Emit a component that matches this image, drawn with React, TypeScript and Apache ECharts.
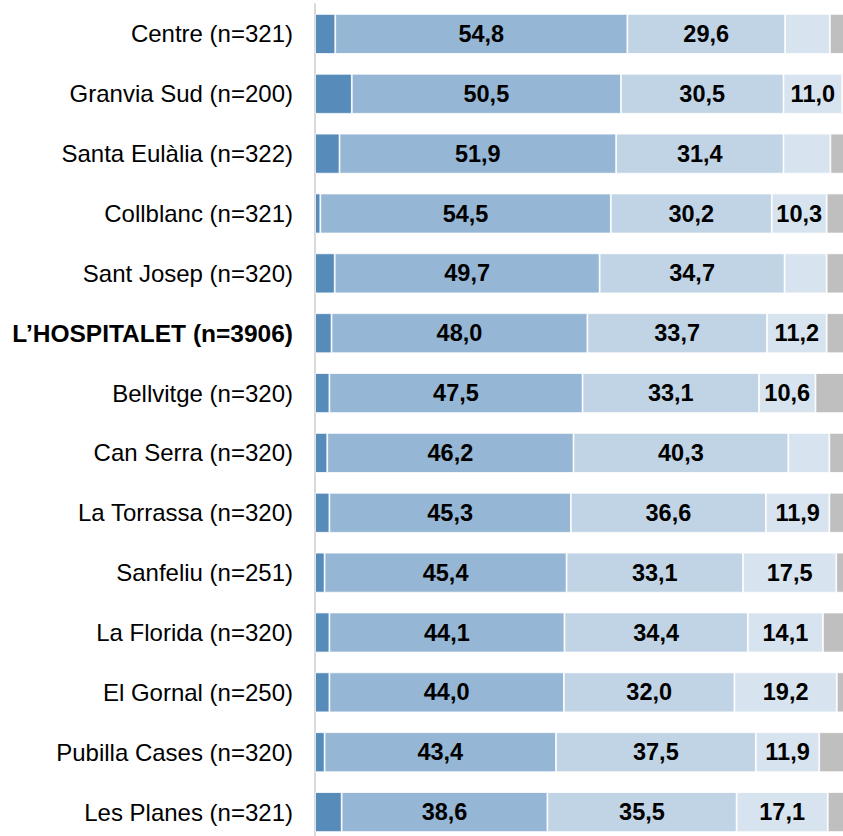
import React, { useEffect, useRef } from "react";
import * as echarts from "echarts";

const categories = [
  "Centre (n=321)",
  "Granvia Sud (n=200)",
  "Santa Eulàlia (n=322)",
  "Collblanc (n=321)",
  "Sant Josep (n=320)",
  "L’HOSPITALET (n=3906)",
  "Bellvitge (n=320)",
  "Can Serra (n=320)",
  "La Torrassa (n=320)",
  "Sanfeliu (n=251)",
  "La Florida (n=320)",
  "El Gornal (n=250)",
  "Pubilla Cases (n=320)",
  "Les Planes (n=321)",
];

const boldCategory = "L’HOSPITALET (n=3906)";

const dark = [3.8, 6.9, 4.6, 1.0, 3.7, 3.1, 2.7, 2.3, 2.7, 1.8, 2.7, 2.7, 1.8, 5.0];
const medium = [54.8, 50.5, 51.9, 54.5, 49.7, 48.0, 47.5, 46.2, 45.3, 45.4, 44.1, 44.0, 43.4, 38.6];
const light = [29.6, 30.5, 31.4, 30.2, 34.7, 33.7, 33.1, 40.3, 36.6, 33.1, 34.4, 32.0, 37.5, 35.5];
const veryLight = [8.4, 11.0, 8.8, 10.3, 7.9, 11.2, 10.6, 7.7, 11.9, 17.5, 14.1, 19.2, 11.9, 17.1];
const grey = [3.4, 1.1, 3.3, 4.0, 4.0, 4.0, 6.1, 3.5, 3.5, 2.2, 4.7, 2.1, 5.4, 3.8];

const FONT = "'Liberation Sans', Arial, sans-serif";

export default function App() {
  const ref = useRef<HTMLDivElement>(null);

  useEffect(() => {
    if (!ref.current) return;
    const chart = echarts.init(ref.current, undefined, { renderer: "svg" });

    const valueLabel = {
      show: true,
      position: "inside",
      color: "#000",
      fontWeight: "bold",
      fontSize: 23.5,
      fontFamily: FONT,
      formatter: (p: any) =>
        p.value >= 10 ? Number(p.value).toFixed(1).replace(".", ",") : "",
    };

    const mk = (name: string, data: number[], color: string, withLabel: boolean) => ({
      name,
      type: "bar",
      stack: "total",
      data,
      barWidth: 40,
      itemStyle: { color, borderColor: "#ffffff", borderWidth: 0.8 },
      label: withLabel ? valueLabel : { show: false },
      emphasis: { disabled: true },
    });

    chart.setOption({
      animation: false,
      grid: { left: 315, right: 0, top: 4, bottom: 0, containLabel: false },
      xAxis: {
        type: "value",
        min: 0,
        max: 100,
        show: false,
      },
      yAxis: {
        type: "category",
        data: categories,
        inverse: true,
        axisLine: { show: true, lineStyle: { color: "#d9d9d9", width: 2 } },
        axisTick: { show: false },
        axisLabel: {
          margin: 22,
          fontSize: 24,
          color: "#000",
          fontFamily: FONT,
          formatter: (v: string) => (v === boldCategory ? `{b|${v}}` : v),
          rich: {
            b: { fontWeight: "bold", fontSize: 24.5, color: "#000", fontFamily: FONT },
          },
        },
      },
      series: [
        mk("dark", dark, "#568bba", false),
        mk("medium", medium, "#95b6d4", true),
        mk("light", light, "#c1d4e5", true),
        mk("veryLight", veryLight, "#d7e3ee", true),
        mk("grey", grey, "#bfbfbf", false),
      ],
    });

    return () => chart.dispose();
  }, []);

  return (
    <div
      style={{
        position: "absolute",
        left: 0,
        top: 0,
        width: 843,
        height: 836,
        overflow: "hidden",
      }}
    >
      <div ref={ref} style={{ width: 848, height: 842 }} />
    </div>
  );
}
